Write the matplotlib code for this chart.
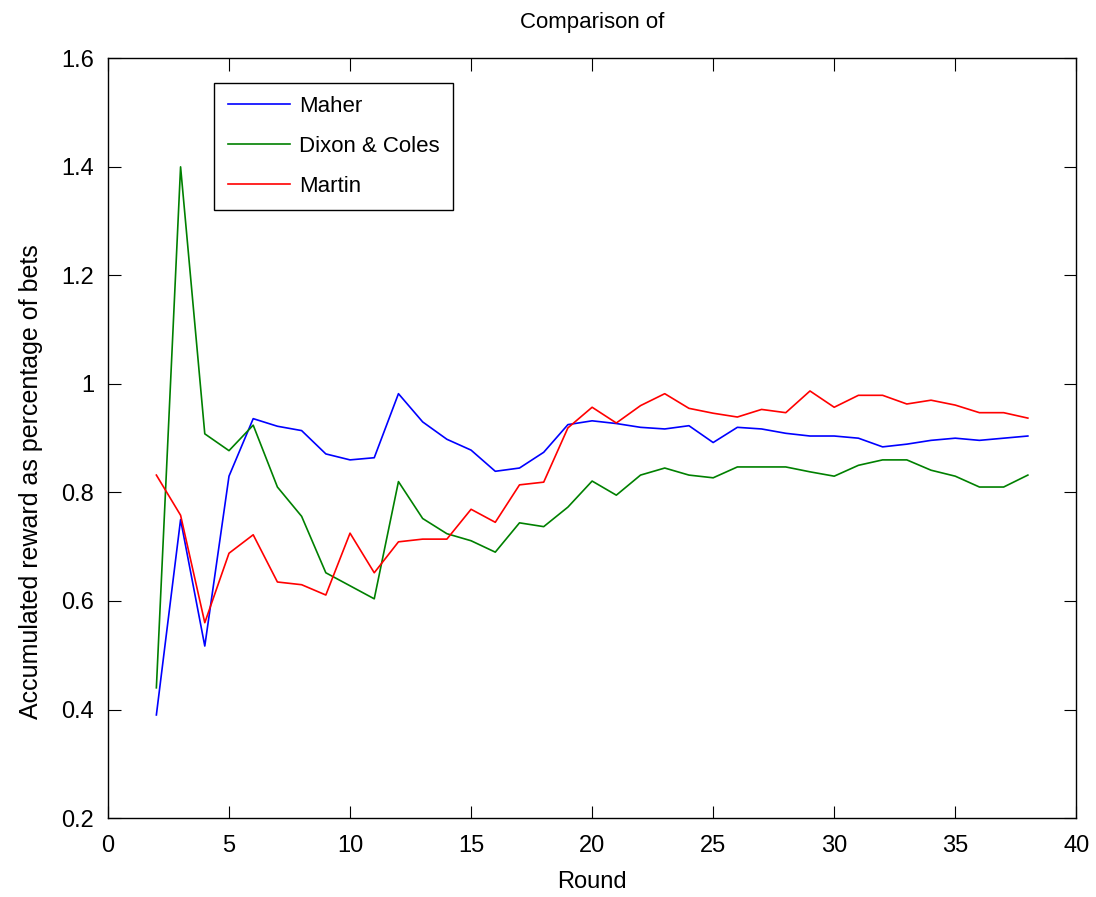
import numpy as np
import matplotlib.pyplot as plt

rounds = list(range(2, 39))

maher = [0.39, 0.75, 0.517, 0.83, 0.936, 0.922, 0.914, 0.871, 0.86, 0.864, 0.982,
         0.93, 0.898, 0.878, 0.839, 0.845, 0.874, 0.925, 0.932, 0.927, 0.92, 0.917,
         0.923, 0.892, 0.92, 0.917, 0.909, 0.904, 0.904, 0.90, 0.884, 0.889, 0.896,
         0.90, 0.896, 0.90, 0.904]

dixon = [0.44, 1.40, 0.908, 0.877, 0.924, 0.81, 0.756, 0.652, 0.628, 0.604, 0.82,
         0.752, 0.724, 0.711, 0.69, 0.744, 0.737, 0.773, 0.821, 0.795, 0.832, 0.845,
         0.832, 0.827, 0.847, 0.847, 0.847, 0.838, 0.83, 0.85, 0.86, 0.86, 0.841,
         0.83, 0.81, 0.81, 0.832]

martin = [0.832, 0.758, 0.56, 0.688, 0.722, 0.635, 0.63, 0.611, 0.725, 0.652, 0.709,
          0.714, 0.714, 0.769, 0.745, 0.814, 0.819, 0.919, 0.957, 0.928, 0.96, 0.982,
          0.955, 0.946, 0.939, 0.953, 0.947, 0.987, 0.957, 0.979, 0.979, 0.963, 0.97,
          0.961, 0.947, 0.947, 0.937]

plt.rcParams['font.family'] = ['Liberation Sans', 'DejaVu Sans']

fig = plt.figure(figsize=(10.96, 8.97), dpi=100)
ax = fig.add_axes([0.0985, 0.088, 0.8835, 0.847])

ax.plot(rounds, maher, color='#0000ff', lw=1.2, label='Maher')
ax.plot(rounds, dixon, color='#008000', lw=1.2, label='Dixon & Coles')
ax.plot(rounds, martin, color='#ff0000', lw=1.2, label='Martin')

ax.set_xlim(0, 40)
ax.set_ylim(0.2, 1.6)
ax.set_xticks(range(0, 41, 5))
ax.set_yticks([0.2, 0.4, 0.6, 0.8, 1.0, 1.2, 1.4, 1.6])
ax.set_yticklabels(['0.2', '0.4', '0.6', '0.8', '1', '1.2', '1.4', '1.6'])
ax.tick_params(direction='in', top=True, right=True, length=9, labelsize=17)
ax.tick_params(axis='x', pad=12)
ax.tick_params(axis='y', pad=10)
for s in ax.spines.values():
    s.set_linewidth(1.0)

ax.set_xlabel('Round', fontsize=17, labelpad=10)
ax.set_ylabel('Accumulated reward as percentage of bets', fontsize=18)
ax.yaxis.set_label_coords(-0.067, 0.443)
ax.set_title('Comparison of', fontsize=16, pad=22)

leg = ax.legend(loc='upper left', bbox_to_anchor=(0.11, 0.968), fontsize=16,
                fancybox=False, edgecolor='black', framealpha=1,
                handlelength=2.8, handletextpad=0.4, borderpad=0.6,
                labelspacing=0.85, borderaxespad=0)
leg.get_frame().set_linewidth(1.0)

fig.savefig('out.png', dpi=100)
